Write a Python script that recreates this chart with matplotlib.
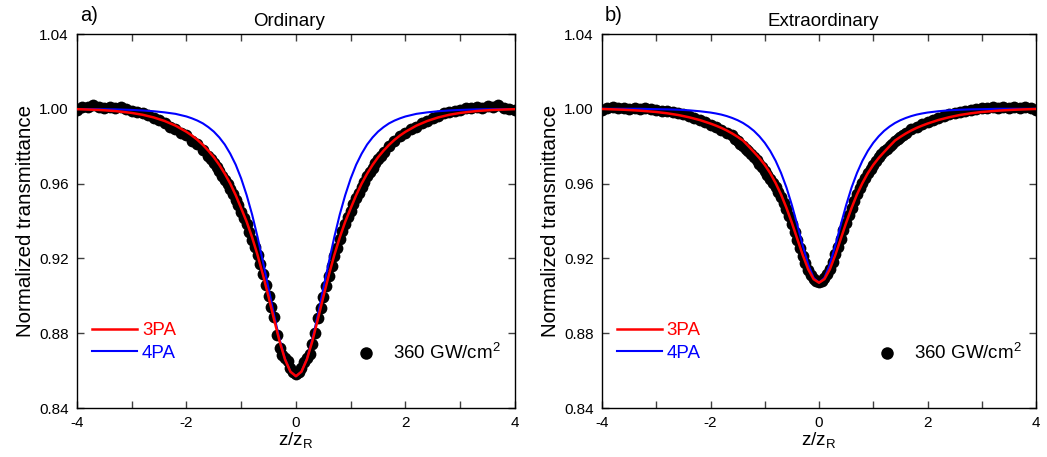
import matplotlib
matplotlib.use("Agg")
import matplotlib.pyplot as plt
from matplotlib.lines import Line2D
from matplotlib.ticker import MultipleLocator

plt.rcParams['font.family'] = ['Liberation Sans', 'DejaVu Sans']
plt.rcParams['mathtext.fontset'] = 'custom'
plt.rcParams['mathtext.rm'] = 'Liberation Sans'
plt.rcParams['axes.unicode_minus'] = False

# ---------------- data ----------------
z_dots = ([round(-4.0 + 0.1 * i, 2) for i in range(25)]
          + [round(-1.55 + 0.05 * i, 2) for i in range(63)]
          + [round(1.6 + 0.1 * i, 2) for i in range(25)])

T_ord_dots = [
    # -4.0 .. -1.6
    0.9995, 1.0008, 1.0012, 1.0018, 1.0010, 1.0006, 1.0012, 1.0004, 1.0008, 1.0000,
    0.9990, 0.9985, 0.9975, 0.9968, 0.9950, 0.9940, 0.9925, 0.9905, 0.9890, 0.9872,
    0.9860, 0.9830, 0.9810, 0.9780, 0.9750,
    # -1.55 .. 1.55
    0.9730, 0.9710, 0.9688, 0.9665, 0.9642, 0.9618, 0.9598, 0.9572, 0.9545, 0.9512,
    0.9485, 0.9450, 0.9418, 0.9385, 0.9343, 0.9300, 0.9262, 0.9218, 0.9168, 0.9115,
    0.9058, 0.9000, 0.8940, 0.8885, 0.8790, 0.8720, 0.8685, 0.8668, 0.8650, 0.8615,
    0.8590, 0.8580, 0.8592, 0.8612, 0.8648, 0.8668, 0.8690, 0.8740, 0.8800, 0.8880,
    0.8935, 0.8992, 0.9050, 0.9108, 0.9162, 0.9212, 0.9258, 0.9302, 0.9345, 0.9385,
    0.9420, 0.9455, 0.9490, 0.9522, 0.9552, 0.9582, 0.9610, 0.9638, 0.9662, 0.9685,
    0.9708, 0.9730, 0.9750,
    # 1.6 .. 4.0
    0.9770, 0.9800, 0.9830, 0.9852, 0.9872, 0.9890, 0.9905, 0.9925, 0.9935, 0.9950,
    0.9960, 0.9975, 0.9982, 0.9990, 0.9996, 1.0004, 1.0002, 1.0010, 1.0006, 1.0014,
    1.0008, 1.0018, 1.0006, 1.0000, 0.9995,
]

T_ext_dots = [
    # -4.0 .. -1.6
    0.9995, 1.0005, 1.0008, 1.0002, 1.0006, 1.0000, 1.0004, 0.9998, 1.0003, 0.9997,
    0.9994, 0.9990, 0.9988, 0.9984, 0.9978, 0.9970, 0.9960, 0.9950, 0.9940, 0.9928,
    0.9915, 0.9902, 0.9888, 0.9872, 0.9858,
    # -1.55 .. 1.55
    0.9838, 0.9826, 0.9814, 0.9800, 0.9787, 0.9773, 0.9758, 0.9742, 0.9725, 0.9707,
    0.9688, 0.9668, 0.9648, 0.9626, 0.9604, 0.9580, 0.9555, 0.9528, 0.9497, 0.9465,
    0.9425, 0.9385, 0.9342, 0.9298, 0.9255, 0.9215, 0.9175, 0.9140, 0.9112, 0.9092,
    0.9080, 0.9075, 0.9080, 0.9093, 0.9115, 0.9145, 0.9182, 0.9222, 0.9262, 0.9305,
    0.9350, 0.9392, 0.9432, 0.9472, 0.9508, 0.9542, 0.9575, 0.9605, 0.9632, 0.9658,
    0.9680, 0.9702, 0.9722, 0.9740, 0.9757, 0.9772, 0.9786, 0.9800, 0.9813, 0.9826,
    0.9838, 0.9850, 0.9860,
    # 1.6 .. 4.0
    0.9870, 0.9890, 0.9905, 0.9918, 0.9930, 0.9942, 0.9952, 0.9962, 0.9970, 0.9978,
    0.9984, 0.9990, 0.9996, 1.0000, 1.0004, 1.0002, 1.0008, 1.0004, 1.0010, 1.0006,
    1.0012, 1.0004, 1.0010, 1.0002, 0.9996,
]

z_fit = [-4.0, -3.6, -3.3, -3.0, -2.8, -2.6, -2.4, -2.2, -2.0, -1.9, -1.8, -1.7, -1.6,
         -1.5, -1.4, -1.3, -1.2, -1.1, -1.0, -0.9, -0.8, -0.7, -0.6, -0.5, -0.4, -0.3,
         -0.2, -0.1, 0.0, 0.1, 0.2, 0.3, 0.4, 0.5, 0.6, 0.7, 0.8, 0.9, 1.0, 1.1, 1.2,
         1.3, 1.4, 1.5, 1.6, 1.7, 1.8, 1.9, 2.0, 2.2, 2.4, 2.6, 2.8, 3.0, 3.3, 3.6, 4.0]

T_ord_3PA = [0.9998, 0.9994, 0.9988, 0.9978, 0.9968, 0.9954, 0.9935, 0.9910, 0.9877,
             0.9857, 0.9834, 0.9807, 0.9776, 0.9741, 0.9700, 0.9653, 0.9600, 0.9538,
             0.9468, 0.9396, 0.9312, 0.9217, 0.9110, 0.8994, 0.8874, 0.8758, 0.8660,
             0.8594, 0.8570, 0.8594, 0.8660, 0.8758, 0.8874, 0.8994, 0.9110, 0.9217,
             0.9312, 0.9396, 0.9468, 0.9538, 0.9600, 0.9653, 0.9700, 0.9741, 0.9776,
             0.9807, 0.9834, 0.9857, 0.9877, 0.9910, 0.9935, 0.9954, 0.9968, 0.9978,
             0.9988, 0.9994, 0.9998]

T_ord_4PA = [0.9999, 0.9998, 0.9997, 0.9994, 0.9991, 0.9987, 0.9981, 0.9973, 0.9959,
             0.9949, 0.9937, 0.9922, 0.9902, 0.9878, 0.9847, 0.9809, 0.9760, 0.9701,
             0.9627, 0.9538, 0.9434, 0.9313, 0.9179, 0.9039, 0.8897, 0.8768, 0.8663,
             0.8594, 0.8570, 0.8594, 0.8663, 0.8768, 0.8897, 0.9039, 0.9179, 0.9313,
             0.9434, 0.9538, 0.9627, 0.9701, 0.9760, 0.9809, 0.9847, 0.9878, 0.9902,
             0.9922, 0.9937, 0.9949, 0.9959, 0.9973, 0.9981, 0.9987, 0.9991, 0.9994,
             0.9997, 0.9998, 0.9999]

T_ext_3PA = [0.9999, 0.9995, 0.9990, 0.9983, 0.9976, 0.9967, 0.9955, 0.9940, 0.9921,
             0.9910, 0.9898, 0.9884, 0.9868, 0.9850, 0.9830, 0.9800, 0.9769, 0.9737,
             0.9700, 0.9656, 0.9603, 0.9542, 0.9470, 0.9390, 0.9304, 0.9218, 0.9142,
             0.9089, 0.9070, 0.9089, 0.9142, 0.9218, 0.9304, 0.9390, 0.9470, 0.9542,
             0.9603, 0.9656, 0.9700, 0.9737, 0.9769, 0.9800, 0.9830, 0.9850, 0.9868,
             0.9884, 0.9898, 0.9910, 0.9921, 0.9940, 0.9955, 0.9967, 0.9976, 0.9983,
             0.9990, 0.9995, 0.9999]

T_ext_4PA = [1.0000, 1.0000, 1.0000, 0.9998, 0.9997, 0.9995, 0.9992, 0.9987, 0.9980,
             0.9975, 0.9969, 0.9961, 0.9951, 0.9939, 0.9924, 0.9905, 0.9882, 0.9853,
             0.9818, 0.9775, 0.9722, 0.9657, 0.9579, 0.9485, 0.9379, 0.9269, 0.9168,
             0.9096, 0.9070, 0.9096, 0.9168, 0.9269, 0.9379, 0.9485, 0.9579, 0.9657,
             0.9722, 0.9775, 0.9818, 0.9853, 0.9882, 0.9905, 0.9924, 0.9939, 0.9951,
             0.9961, 0.9969, 0.9975, 0.9980, 0.9987, 0.9992, 0.9995, 0.9997, 0.9998,
             1.0000, 1.0000, 1.0000]

panel_letters = ["a)", "b)"]
panel_titles = ["Ordinary", "Extraordinary"]
dots_label = "360 GW/cm$^\\mathregular{2}$"
fit_labels = ["3PA", "4PA"]
y_ticks = [0.84, 0.88, 0.92, 0.96, 1.00, 1.04]
x_ticks = [-4, -2, 0, 2, 4]

# ---------------- figure ----------------
fig = plt.figure(figsize=(10.47, 4.57), dpi=100)
axes = [fig.add_axes([0.0735, 0.1072, 0.4183, 0.8184]),
        fig.add_axes([0.5750, 0.1072, 0.4145, 0.8184])]

datasets = [(T_ord_dots, T_ord_3PA, T_ord_4PA), (T_ext_dots, T_ext_3PA, T_ext_4PA)]
title_x = [0.484, 0.51]

for ax, (dots, f3, f4), letter, title, tx in zip(axes, datasets, panel_letters,
                                                 panel_titles, title_x):
    ax.plot(z_dots, dots, 'o', color='black', markersize=8.5, markeredgewidth=0,
            zorder=2)
    l3, = ax.plot(z_fit, f3, '-', color='#ff0000', lw=1.8, zorder=4)
    l4, = ax.plot(z_fit, f4, '-', color='#0000ff', lw=1.5, zorder=3)

    ax.set_xlim(-4, 4)
    ax.set_ylim(0.84, 1.04)
    ax.set_xticks(x_ticks)
    ax.xaxis.set_minor_locator(MultipleLocator(1))
    ax.set_yticks(y_ticks)
    ax.set_yticklabels([f"{v:.2f}" for v in y_ticks])
    ax.tick_params(which='both', direction='in', top=True, right=True,
                   labelsize=11, color='#404040')
    ax.tick_params(which='major', length=5, width=1, pad=6)
    ax.tick_params(which='minor', length=5, width=1)
    for sp in ax.spines.values():
        sp.set_linewidth(1.0)

    ax.set_ylabel("Normalized transmittance", fontsize=14.8, labelpad=3)
    ax.set_xlabel("z/z$_\\mathregular{R}$", fontsize=13.7, labelpad=0)
    ax.set_title(title, fontsize=13.5, pad=6, x=tx)
    ax.text(0.007, 1.025, letter, transform=ax.transAxes, fontsize=14.5,
            ha='left', va='bottom')

    leg1 = ax.legend([l3, l4], fit_labels, loc='lower left',
                     bbox_to_anchor=(0.034, 0.123), frameon=False, fontsize=13.5,
                     handlelength=2.4, handletextpad=0.27, labelspacing=0.3,
                     labelcolor='linecolor', borderaxespad=0, borderpad=0)
    ax.add_artist(leg1)
    dot_handle = Line2D([], [], marker='o', color='black', linestyle='none',
                        markersize=9, markeredgewidth=0)
    ax.legend([dot_handle], [dots_label], loc='lower right',
              bbox_to_anchor=(0.968, 0.12), frameon=False, fontsize=13.5,
              handlelength=2.0, handletextpad=0.45, borderaxespad=0, borderpad=0)

fig.savefig("out.png", dpi=100)
